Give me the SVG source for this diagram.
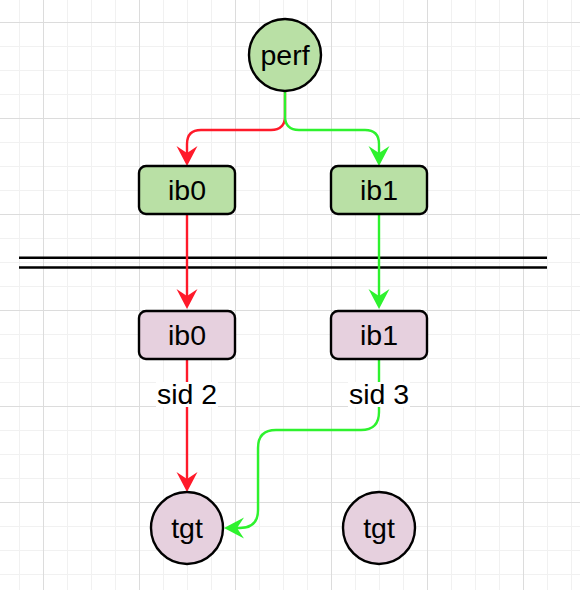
<svg xmlns="http://www.w3.org/2000/svg" width="580" height="590" viewBox="0 0 580 590">
  <defs>
    <!-- background grid: 24px minor cells, 96px major cells -->
    <pattern id="grid" x="43" y="22" width="96" height="96" patternUnits="userSpaceOnUse">
      <path d="M24.5,0 V96 M48.5,0 V96 M72.5,0 V96 M0,24.5 H96 M0,48.5 H96 M0,72.5 H96" stroke="#f1f1f1" stroke-width="1" fill="none"/>
      <path d="M0.5,0 V96 M0,0.5 H96" stroke="#dcdcdc" stroke-width="1" fill="none"/>
    </pattern>
    <marker id="arrow-red" markerUnits="userSpaceOnUse" viewBox="-21 -12 23 24" markerWidth="23" markerHeight="24" refX="-12" refY="0" orient="auto">
      <path d="M0,0 L-20,-10.5 L-13,0 L-20,10.5 Z" fill="#ff1a2a"/>
    </marker>
    <marker id="arrow-green" markerUnits="userSpaceOnUse" viewBox="-21 -12 23 24" markerWidth="23" markerHeight="24" refX="-12" refY="0" orient="auto">
      <path d="M0,0 L-20,-10.5 L-13,0 L-20,10.5 Z" fill="#2ef22e"/>
    </marker>
  </defs>
  <style>
    .node { stroke: #000; stroke-width: 2.4; }
    .green { fill: #b9e0a5; }
    .pink { fill: #e6d0de; }
    .lbl { font-family: "Liberation Sans", Arial, Helvetica, sans-serif; font-size: 28.5px; fill: #000; text-anchor: middle; }
    .edge { fill: none; stroke-width: 2.4; }
    .red { stroke: #ff1a2a; marker-end: url(#arrow-red); }
    .grn { stroke: #2ef22e; marker-end: url(#arrow-green); }
    .sep { stroke: #000; stroke-width: 2.4; }
    .bg { fill: #fff; }
  </style>

  <rect width="580" height="590" fill="#fff"/>
  <rect width="580" height="590" fill="url(#grid)"/>

  <!-- double separator line -->
  <g id="separator">
    <line class="sep" x1="19" y1="257.8" x2="547" y2="257.8"/>
    <line class="sep" x1="19" y1="267.5" x2="547" y2="267.5"/>
  </g>

  <g id="connectors">
    <path class="edge red" d="M285,91 V116 Q285,130 271,130 H201 Q187,130 187,144 V154"/>
    <path class="edge grn" d="M285,91 V116 Q285,130 299,130 H365 Q379,130 379,144 V154"/>
    <path class="edge red" d="M187,214 V297"/>
    <path class="edge grn" d="M379,214 V297"/>
    <path class="edge red" d="M187,359 V480"/>
    <path class="edge grn" d="M379,359 V412 Q379,430 361,430 H276 Q258,430 258,448 V510 Q258,528 240,528 H236"/>
    <g id="edge-labels">
      <rect class="bg" x="156" y="382" width="62" height="25"/>
      <text class="lbl" x="187" y="404">sid 2</text>
      <rect class="bg" x="348" y="382" width="62" height="25"/>
      <text class="lbl" x="379" y="404">sid 3</text>
    </g>
  </g>

  <g id="perf">
    <circle class="node green" cx="285" cy="55" r="36"/>
    <text class="lbl" x="285" y="65">perf</text>
  </g>
  <g id="ib0-top">
    <rect class="node green" x="139" y="166" width="96" height="48" rx="7"/>
    <text class="lbl" x="187" y="200">ib0</text>
  </g>
  <g id="ib1-top">
    <rect class="node green" x="331" y="166" width="96" height="48" rx="7"/>
    <text class="lbl" x="379" y="200">ib1</text>
  </g>
  <g id="ib0-bottom">
    <rect class="node pink" x="139" y="311" width="96" height="48" rx="7"/>
    <text class="lbl" x="187" y="345">ib0</text>
  </g>
  <g id="ib1-bottom">
    <rect class="node pink" x="331" y="311" width="96" height="48" rx="7"/>
    <text class="lbl" x="379" y="345">ib1</text>
  </g>
  <g id="tgt-left">
    <circle class="node pink" cx="187" cy="528" r="36"/>
    <text class="lbl" x="187" y="538">tgt</text>
  </g>
  <g id="tgt-right">
    <circle class="node pink" cx="379" cy="528" r="36"/>
    <text class="lbl" x="379" y="538">tgt</text>
  </g>
</svg>
